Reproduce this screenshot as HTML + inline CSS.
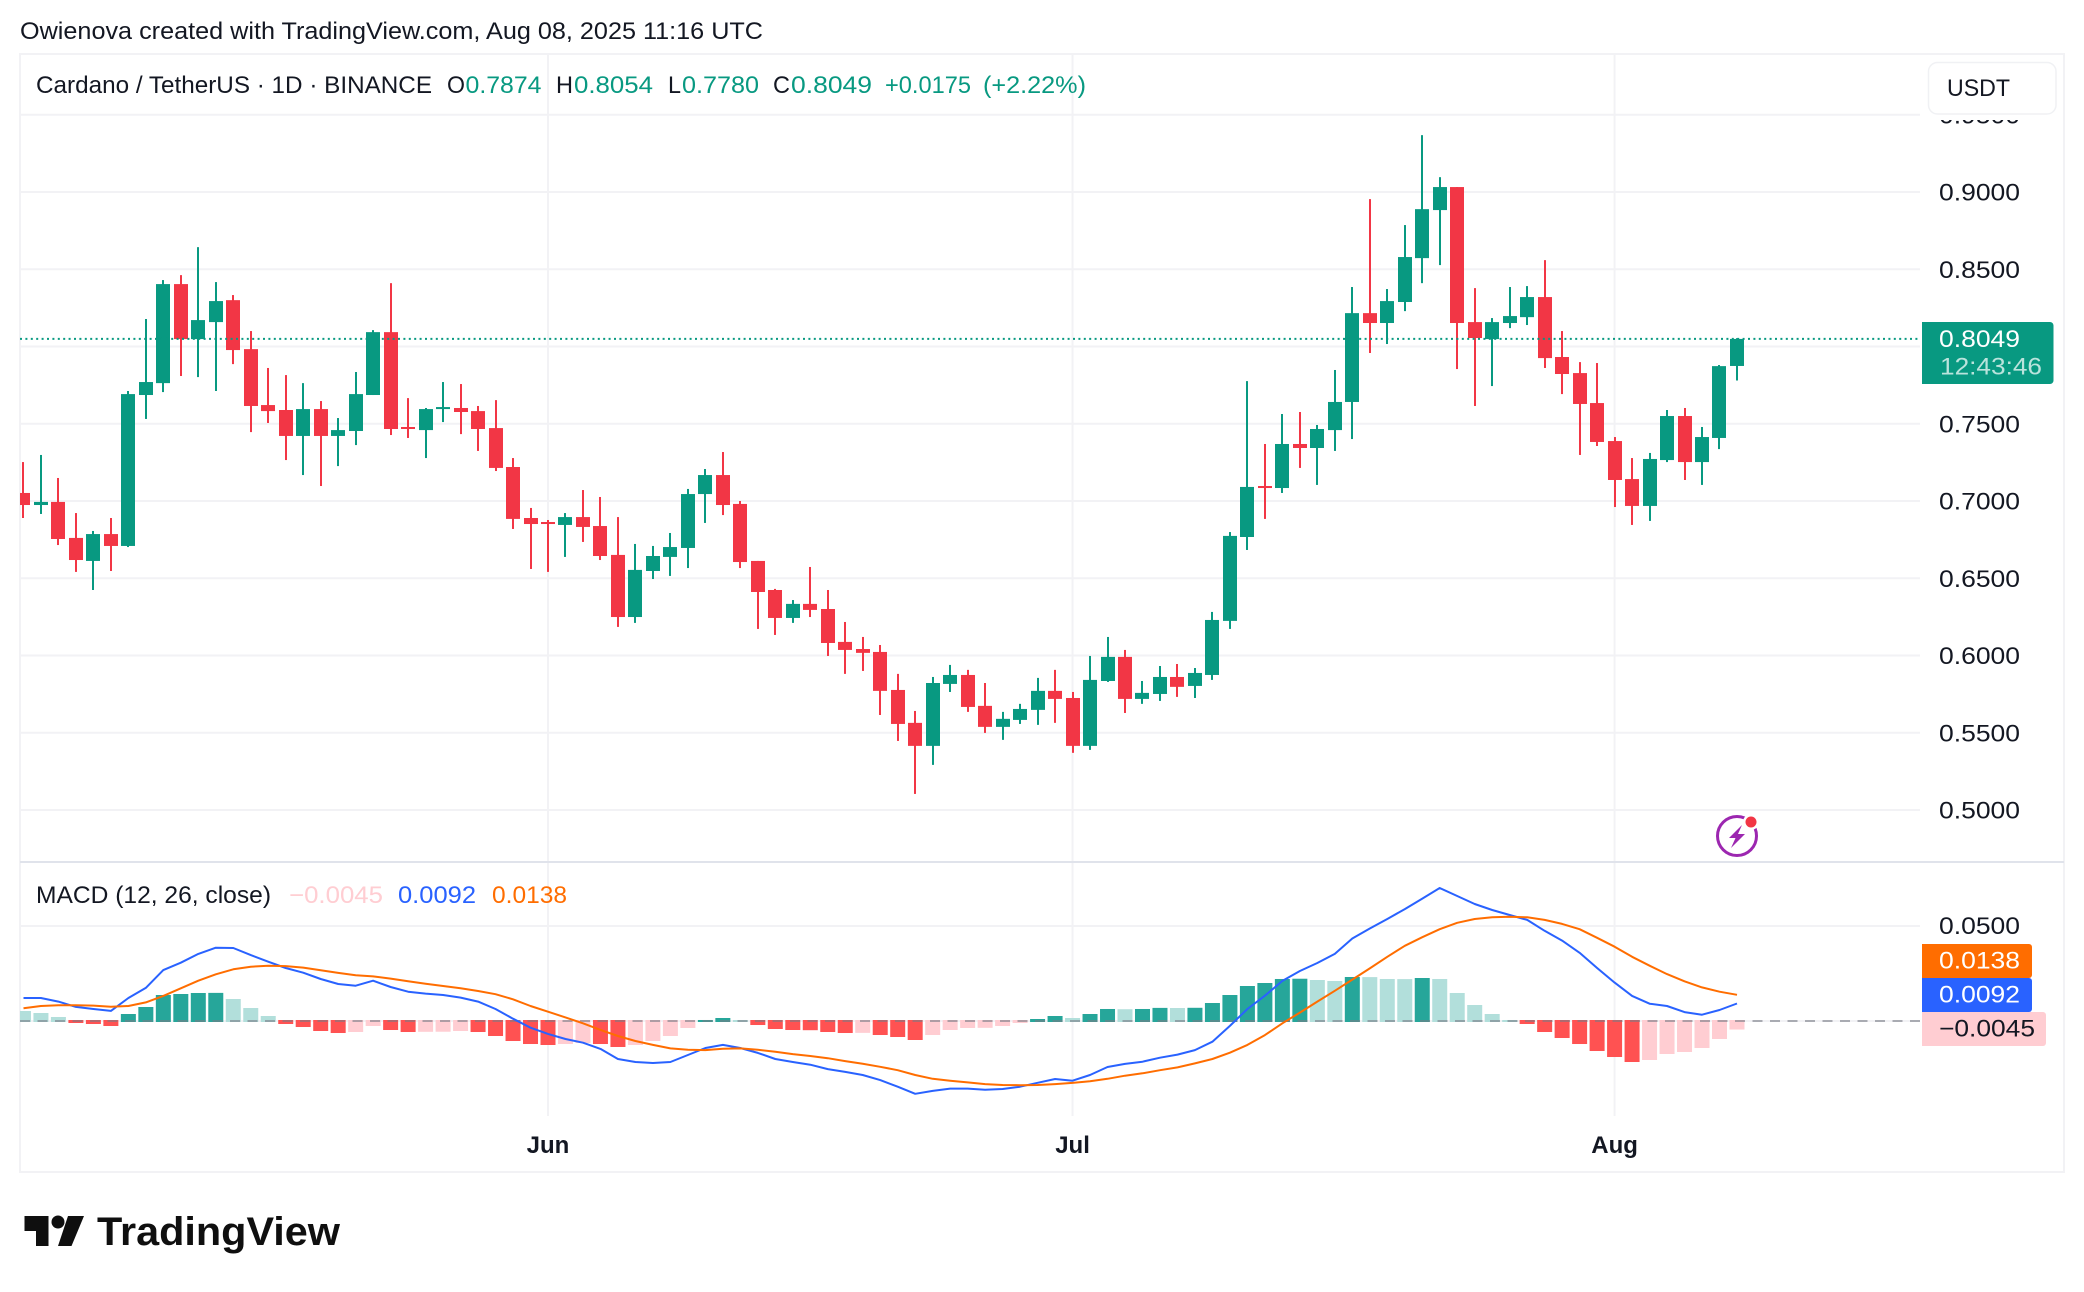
<!DOCTYPE html>
<html lang="en">
<head>
<meta charset="utf-8">
<title>Cardano / TetherUS chart</title>
<style>
  html,body{margin:0;padding:0;background:#fff;width:2084px;height:1292px;overflow:hidden}
  svg{position:absolute;left:0;top:0;display:block}
  text{font-family:"Liberation Sans",sans-serif;font-size:24px;fill:#131722}
</style>
</head>
<body>
<svg id="chart" width="2084" height="1292" viewBox="0 0 2084 1292" xmlns="http://www.w3.org/2000/svg">
  <defs>
    <clipPath id="plot-clip"><rect x="20" y="53" width="1900" height="1063"/></clipPath>
    <clipPath id="axis-clip"><rect x="1922" y="120" width="140" height="1050"/></clipPath>
  </defs>
  <rect x="0" y="0" width="2084" height="1292" fill="#ffffff"/>
  <text x="20" y="39" textLength="743" lengthAdjust="spacingAndGlyphs" fill="#131722">Owienova created with TradingView.com, Aug 08, 2025 11:16 UTC</text>
  <rect x="20" y="54" width="2044" height="1118" fill="none" stroke="#f2f2f5" stroke-width="2"/>
  <g id="grid"></g>
  <g id="candles" clip-path="url(#plot-clip)"></g>
  <line id="last-line" x1="20" x2="1920" stroke="#089981" stroke-width="2" stroke-dasharray="2 3.4"/>
  <rect x="20" y="861" width="2044" height="2" fill="#e0e3eb"/>
  <g id="hist" clip-path="url(#plot-clip)"></g>
  <line id="zero-line" x1="20" x2="1920" stroke="#787b86" stroke-opacity="0.6" stroke-width="2" stroke-dasharray="10 7.5"/>
  <path id="macd-line" fill="none" stroke="#2962ff" stroke-width="2" stroke-linejoin="round" clip-path="url(#plot-clip)"/>
  <path id="signal-line" fill="none" stroke="#ff6d00" stroke-width="2" stroke-linejoin="round" clip-path="url(#plot-clip)"/>

  <g>
    <text x="36" y="93" textLength="396" lengthAdjust="spacingAndGlyphs">Cardano / TetherUS · 1D · BINANCE</text>
    <text x="447" y="93" textLength="18" lengthAdjust="spacingAndGlyphs">O</text>
    <text x="465.5" y="93" textLength="76" lengthAdjust="spacingAndGlyphs" style="fill:#089981">0.7874</text>
    <text x="556" y="93" textLength="17" lengthAdjust="spacingAndGlyphs">H</text>
    <text x="574" y="93" textLength="79" lengthAdjust="spacingAndGlyphs" style="fill:#089981">0.8054</text>
    <text x="668" y="93" textLength="13" lengthAdjust="spacingAndGlyphs">L</text>
    <text x="682" y="93" textLength="77" lengthAdjust="spacingAndGlyphs" style="fill:#089981">0.7780</text>
    <text x="773" y="93" textLength="17" lengthAdjust="spacingAndGlyphs">C</text>
    <text x="791" y="93" textLength="81" lengthAdjust="spacingAndGlyphs" style="fill:#089981">0.8049</text>
    <text x="885" y="93" textLength="86" lengthAdjust="spacingAndGlyphs" style="fill:#089981">+0.0175</text>
    <text x="983" y="93" textLength="103" lengthAdjust="spacingAndGlyphs" style="fill:#089981">(+2.22%)</text>
  </g>

  <g>
    <text x="36" y="903" textLength="235" lengthAdjust="spacingAndGlyphs">MACD (12, 26, close)</text>
    <text x="289" y="903" textLength="94" lengthAdjust="spacingAndGlyphs" style="fill:#ffcdd2">−0.0045</text>
    <text x="398" y="903" textLength="78" lengthAdjust="spacingAndGlyphs" style="fill:#2962ff">0.0092</text>
    <text x="492" y="903" textLength="75" lengthAdjust="spacingAndGlyphs" style="fill:#ff6d00">0.0138</text>
  </g>

  <g id="price-axis" clip-path="url(#axis-clip)"></g>
  <g id="time-axis"></g>

  <g>
    <rect x="1928.5" y="62.5" width="127.5" height="51.5" rx="9" fill="#ffffff" stroke="#f0f1f4" stroke-width="1.5"/>
    <text x="1947" y="96" textLength="63" lengthAdjust="spacingAndGlyphs">USDT</text>
  </g>

  <g>
    <path d="M1922 322H2050a3.5 3.5 0 0 1 3.5 3.5V380.5a3.5 3.5 0 0 1 -3.5 3.5H1922Z" fill="#089981"/>
    <text x="1939" y="347" textLength="81" lengthAdjust="spacingAndGlyphs" style="fill:#ffffff">0.8049</text>
    <text x="1940" y="374.5" textLength="102" lengthAdjust="spacingAndGlyphs" style="fill:#ffffff;fill-opacity:.72">12:43:46</text>
  </g>

  <g>
    <text x="1939" y="934" textLength="81" lengthAdjust="spacingAndGlyphs">0.0500</text>
    <path d="M1922 944H2029a3 3 0 0 1 3 3V975a3 3 0 0 1 -3 3H1922Z" fill="#ff6d00"/>
    <text x="1939" y="968.5" textLength="81" lengthAdjust="spacingAndGlyphs" style="fill:#ffffff">0.0138</text>
    <path d="M1922 978H2029a3 3 0 0 1 3 3V1009a3 3 0 0 1 -3 3H1922Z" fill="#2962ff"/>
    <text x="1939" y="1002.5" textLength="81" lengthAdjust="spacingAndGlyphs" style="fill:#ffffff">0.0092</text>
    <path d="M1922 1012H2043a3 3 0 0 1 3 3V1043a3 3 0 0 1 -3 3H1922Z" fill="#ffcdd2"/>
    <text x="1939" y="1036.5" textLength="96" lengthAdjust="spacingAndGlyphs">−0.0045</text>
  </g>

  <g>
    <circle cx="1737" cy="836" r="19.5" fill="#ffffff" stroke="#9c27b0" stroke-width="3"/>
    <path d="M1742 825L1729 838H1735.5L1731 848L1745 834H1738Z" fill="#9c27b0"/>
    <circle cx="1751" cy="822" r="8" fill="#ffffff"/>
    <circle cx="1751" cy="822" r="5.5" fill="#f23645"/>
  </g>

  <g>
    <path d="M24.5 1216H48.5V1246H36V1231H24.5Z" fill="#0f0f0f"/>
    <circle cx="58" cy="1222" r="6.5" fill="#0f0f0f"/>
    <path d="M68 1216H84L71.5 1246H58Z" fill="#0f0f0f"/>
    <text x="97" y="1245" textLength="243" lengthAdjust="spacingAndGlyphs" style="font-size:40px;font-weight:700;fill:#0f0f0f">TradingView</text>
  </g>
</svg>

<script>
// ---- candle data (ADA/USDT, daily) ----
const opens = [
.7052,.6974,.6994,.6761,.6612,.6786,.6709,.7686,.7763,.8404,
.8048,.8158,.8300,.7983,.7621,.7589,.7421,.7595,.7421,.7453,
.7686,.8093,.7479,.7459,.7595,.7602,.7582,.7472,.7220,.6890,
.6864,.6845,.6896,.6838,.6651,.6249,.6547,.6638,.6696,.7045,
.7168,.6981,.6612,.6424,.6243,.6334,.6301,.6088,.6042,.6023,
.5777,.5564,.5415,.5816,.5874,.5674,.5538,.5583,.5648,.5771,
.5725,.5415,.5835,.5991,.5719,.5751,.5861,.5803,.5874,.6224,
.6767,.7097,.7084,.7369,.7343,.7459,.7641,.8216,.8152,.8288,
.8572,.8883,.9032,.8158,.8048,.8152,.8190,.8320,.7932,.7828,
.7634,.7388,.7142,.6968,.7265,.7550,.7252,.7408,.7874];
const highs = [
.7252,.7298,.7149,.6922,.6806,.6890,.7712,.8178,.8430,.8462,
.8643,.8417,.8333,.8100,.7861,.7815,.7763,.7647,.7537,.7835,
.8106,.8410,.7666,.7602,.7770,.7757,.7615,.7653,.7278,.6955,
.6877,.6922,.7071,.7026,.6896,.6722,.6709,.6793,.7078,.7207,
.7317,.7000,.6612,.6431,.6359,.6573,.6424,.6217,.6120,.6068,
.5881,.5641,.5861,.5939,.5907,.5822,.5635,.5687,.5855,.5907,
.5764,.5997,.6120,.6036,.5835,.5932,.5945,.5919,.6282,.6799,
.7776,.7369,.7563,.7576,.7492,.7848,.8385,.8954,.8372,.8786,
.9368,.9096,.9032,.8378,.8184,.8385,.8391,.8559,.8100,.7899,
.7893,.7414,.7278,.7311,.7589,.7602,.7479,.7880,.8054];
const lows = [
.6890,.6916,.6715,.6541,.6424,.6547,.6702,.7531,.7705,.7809,
.7802,.7712,.7886,.7446,.7505,.7265,.7168,.7097,.7226,.7362,
.7686,.7427,.7408,.7278,.7511,.7433,.7324,.7194,.6819,.6560,
.6541,.6638,.6735,.6618,.6185,.6211,.6495,.6515,.6566,.6858,
.6909,.6566,.6172,.6133,.6211,.6249,.5997,.5881,.5900,.5615,
.5447,.5104,.5292,.5764,.5635,.5499,.5454,.5557,.5551,.5564,
.5370,.5389,.5829,.5628,.5687,.5706,.5732,.5725,.5842,.6172,
.6683,.6884,.7052,.7214,.7104,.7324,.7401,.7958,.8016,.8229,
.8410,.8527,.7854,.7615,.7744,.8119,.8139,.7861,.7692,.7298,
.7356,.6961,.6845,.6871,.7252,.7136,.7104,.7336,.7780];
const closes = [
.6974,.6994,.6754,.6618,.6786,.6709,.7692,.7770,.8404,.8048,
.8171,.8294,.7977,.7615,.7582,.7421,.7595,.7421,.7459,.7692,
.8093,.7466,.7466,.7595,.7608,.7576,.7466,.7214,.6884,.6851,
.6851,.6896,.6832,.6644,.6249,.6554,.6644,.6702,.7045,.7168,
.6974,.6605,.6411,.6243,.6334,.6295,.6081,.6036,.6017,.5771,
.5557,.5415,.5822,.5874,.5667,.5538,.5590,.5654,.5771,.5719,
.5415,.5842,.5991,.5719,.5758,.5861,.5797,.5887,.6230,.6774,
.7091,.7084,.7369,.7343,.7466,.7641,.8216,.8152,.8294,.8579,
.8889,.9032,.8152,.8055,.8158,.8197,.8320,.7925,.7822,.7628,
.7382,.7136,.6968,.7272,.7550,.7252,.7414,.7873,.8049];

// ---- MACD data ----
const macdValues = [
.0121,.0121,.0102,.0074,.0063,.0053,.0121,.0174,.0268,.0307,
.0353,.0386,.0384,.0347,.0312,.0279,.0254,.0221,.0195,.0186,
.0212,.0179,.0154,.0144,.0137,.0123,.0102,.0063,.0012,-.0035,
-.0068,-.0095,-.0114,-.0147,-.0200,-.0216,-.0221,-.0216,-.0179,-.0142,
-.0126,-.0142,-.0168,-.0200,-.0216,-.0230,-.0253,-.0268,-.0284,-.0311,
-.0346,-.0383,-.0368,-.0356,-.0356,-.0362,-.0358,-.0346,-.0325,-.0305,
-.0314,-.0284,-.0242,-.0226,-.0214,-.0193,-.0177,-.0153,-.0109,-.0026,
.0063,.0133,.0211,.0263,.0305,.0353,.0434,.0487,.0537,.0589,
.0644,.0700,.0658,.0616,.0584,.0558,.0532,.0475,.0423,.0359,
.0279,.0202,.0132,.0091,.0079,.0047,.0033,.0058,.0092];
const signalValues = [
.0067,.0079,.0083,.0083,.0081,.0075,.0079,.0098,.0132,.0172,
.0212,.0246,.0272,.0286,.0291,.0289,.0281,.0267,.0253,.0241,
.0235,.0223,.0209,.0196,.0184,.0172,.0158,.0141,.0114,.0079,
.0049,.0019,-.0012,-.0047,-.0079,-.0105,-.0126,-.0144,-.0151,-.0153,
-.0146,-.0144,-.0151,-.0162,-.0174,-.0184,-.0196,-.0211,-.0225,-.0241,
-.0259,-.0284,-.0304,-.0314,-.0323,-.0332,-.0337,-.0338,-.0337,-.0332,
-.0326,-.0317,-.0304,-.0288,-.0275,-.0259,-.0244,-.0223,-.0200,-.0167,
-.0126,-.0074,-.0012,.0044,.0102,.0159,.0218,.0277,.0338,.0396,
.0441,.0483,.0517,.0537,.0546,.0549,.0546,.0532,.0511,.0483,
.0438,.0391,.0338,.0291,.0247,.0209,.0177,.0154,.0138];
const histValues = [
.00526,.00421,.00211,-.00105,-.00158,-.00263,.00368,.00737,.01368,.01421,
.01474,.01480,.01158,.00684,.00263,-.00158,-.00316,-.00526,-.00632,-.00579,
-.00263,-.00474,-.00579,-.00570,-.00565,-.00526,-.00579,-.00789,-.01053,-.01211,
-.01263,-.01211,-.01158,-.01211,-.01368,-.01263,-.01053,-.00789,-.00368,.00053,
.00158,.00053,-.00211,-.00421,-.00474,-.00484,-.00579,-.00632,-.00625,-.00737,
-.00842,-.01000,-.00737,-.00474,-.00368,-.00360,-.00263,-.00105,.00105,.00263,
.00158,.00368,.00632,.00620,.00632,.00690,.00684,.00695,.00947,.01368,
.01842,.02000,.02211,.02225,.02158,.02105,.02316,.02310,.02211,.02205,
.02263,.02211,.01474,.00842,.00368,.00053,-.00158,-.00579,-.00895,-.01211,
-.01579,-.01895,-.02158,-.02053,-.01737,-.01632,-.01421,-.00947,-.00450];

// ---- axis labels ----
const priceTicks = [0.95,0.9,0.85,0.8,0.75,0.7,0.65,0.6,0.55,0.5];
const priceTickLabels = ["0.9500","0.9000","0.8500","","0.7500","0.7000","0.6500","0.6000","0.5500","0.5000"];
const macdTicks = [0.05,0];
const timeTickIndexes = [30,60,91];
const timeTickLabels = ["Jun","Jul","Aug"];
const lastClose = closes[closes.length-1];

// ---- axis functions ----
const xScale = i => 548 + 17.485*(i-30);
const yPrice = p => 501 - (p-0.7)*1545;
const yMacd = v => 1021 - v*1900;

const NS = "http://www.w3.org/2000/svg";
function make(tag, parent, attrs){
  const el = document.createElementNS(NS, tag);
  for (const k in attrs) el.setAttribute(k, attrs[k]);
  parent.appendChild(el);
  return el;
}

const gridG = document.getElementById("grid");
priceTicks.forEach(p => {
  const ln = make("line", gridG, {x1:20, x2:1920, y1:yPrice(p), y2:yPrice(p), stroke:"#f2f2f5", "stroke-width":2});
  
  
});
macdTicks.forEach(v => {
  const ln = make("line", gridG, {x1:20, x2:1920, y1:yMacd(v), y2:yMacd(v), stroke:"#f2f2f5", "stroke-width":2});
  
  
});
timeTickIndexes.forEach(i => {
  const ln = make("line", gridG, {x1:xScale(i), x2:xScale(i), y1:54, y2:1116, stroke:"#f2f2f5", "stroke-width":2});
  
  
});

const candleG = document.getElementById("candles");
closes.forEach((c, i) => {
  const o = opens[i], up = c >= o, col = up ? "#089981" : "#f23645", x = xScale(i);
  const top = yPrice(Math.max(o, c)), bot = yPrice(Math.min(o, c));
  const wick = make("rect", candleG, {x:Math.round(x)-1, y:yPrice(highs[i]), width:2, height:yPrice(lows[i])-yPrice(highs[i]), fill:col});
  
  
  const body = make("rect", candleG, {x:Math.round(x)-7, y:top, width:14, height:Math.max(bot-top,1.5), fill:col});
  
  
});

const lastLine = document.getElementById("last-line");
lastLine.setAttribute("y1", yPrice(lastClose));
lastLine.setAttribute("y2", yPrice(lastClose));

const histG = document.getElementById("hist");
histValues.forEach((v, i) => {
  const prev = i ? histValues[i-1] : v;
  let col;
  if (v >= 0) col = v > prev ? "#26a69a" : "#b2dfdb";
  else col = v < prev ? "#ff5252" : "#ffcdd2";
  const yv = yMacd(v), y = v >= 0 ? yv : yMacd(0)-1, h = v >= 0 ? yMacd(0)+1-yv : yv-yMacd(0)+1;
  const bar = make("rect", histG, {x:xScale(i)-7.5, y:y, width:15, height:h, fill:col});
  
  
});

const zero = document.getElementById("zero-line");
zero.setAttribute("y1", yMacd(0));
zero.setAttribute("y2", yMacd(0));

const pathOf = vals => vals.map((v,i)=>(i?"L":"M")+xScale(i).toFixed(1)+" "+yMacd(v).toFixed(1)).join("");
document.getElementById("macd-line").setAttribute("d", pathOf(macdValues));
document.getElementById("signal-line").setAttribute("d", pathOf(signalValues));

const priceAxis = document.getElementById("price-axis");
priceTicks.forEach((p, i) => {
  if (!priceTickLabels[i]) return;
  const t = make("text", priceAxis, {x:1939, y:yPrice(p)+8.5, textLength:81, lengthAdjust:"spacingAndGlyphs"});
  
  
  t.textContent = priceTickLabels[i];
});

const timeAxis = document.getElementById("time-axis");
timeTickIndexes.forEach((idx, i) => {
  const t = make("text", timeAxis, {x:xScale(idx), y:1153, "text-anchor":"middle", "font-weight":"700"});
  
  
  t.style.fontWeight = "700";
  t.textContent = timeTickLabels[i];
});
</script>
</body>
</html>
